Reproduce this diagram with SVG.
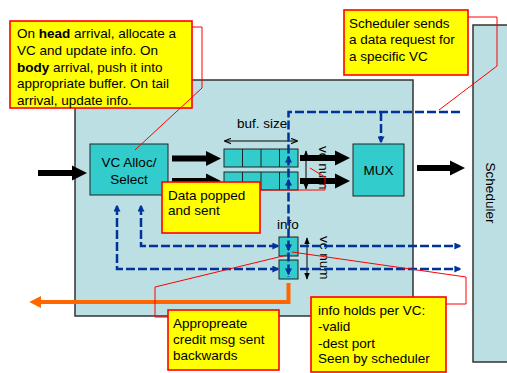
<svg xmlns="http://www.w3.org/2000/svg" width="507" height="373" viewBox="0 0 507 373">
<style>
text{font-family:"Liberation Sans",Arial,sans-serif;font-size:13.5px;fill:#000}
.bg{fill:#bcdfe3;stroke:#333;stroke-width:1.5}
.teal{fill:#33cccc;stroke:#222;stroke-width:1}
.note{fill:#ffff00;stroke:#ff0000;stroke-width:1.6}
.thick{stroke:#000;stroke-width:6;fill:none;marker-end:url(#ah)}
.blue{stroke:#003399;stroke-width:2.5;fill:none;stroke-dasharray:9 3}
.bm{marker-end:url(#bh)}
.bs{marker-start:url(#bh)}
.red{stroke:#ff0000;stroke-width:1;fill:none}
.thin{stroke:#000;stroke-width:1;fill:none;marker-start:url(#th);marker-end:url(#th)}
.orange{stroke:#ff6600;stroke-width:4;fill:none;marker-end:url(#oh)}
.mid{text-anchor:middle}
</style>
<defs>
<marker id="ah" viewBox="0 0 10 10" refX="4" refY="5" markerWidth="2.5" markerHeight="2.6" orient="auto"><path d="M0,0L10,5L0,10z" fill="#000"/></marker>
<marker id="bh" viewBox="0 0 10 10" refX="8" refY="5" markerWidth="7" markerHeight="7" markerUnits="userSpaceOnUse" orient="auto-start-reverse"><path d="M0,0L10,5L0,10z" fill="#003399"/></marker>
<marker id="th" viewBox="0 0 10 10" refX="9" refY="5" markerWidth="7" markerHeight="7" markerUnits="userSpaceOnUse" orient="auto-start-reverse"><path d="M0,1L10,5L0,9z" fill="#000"/></marker>
<marker id="tho" viewBox="0 0 10 10" refX="9" refY="5" markerWidth="7" markerHeight="7" markerUnits="userSpaceOnUse" orient="auto-start-reverse"><path d="M0,1L10,5L0,9" fill="none" stroke="#000" stroke-width="1.5"/></marker>
<marker id="oh" viewBox="0 0 10 10" refX="6" refY="5" markerWidth="12" markerHeight="12" markerUnits="userSpaceOnUse" orient="auto"><path d="M0,0L10,5L0,10z" fill="#ff6600"/></marker>
</defs>

<g id="router"><rect class="bg" x="75" y="80" width="338" height="236"/></g>
<g id="scheduler"><rect class="bg" x="473" y="25" width="40" height="337"/><text class="mid" transform="translate(486,193) rotate(90)">Scheduler</text></g>

<g id="vcalloc"><rect class="teal" x="90" y="144" width="78" height="51"/><text class="mid" x="129" y="167">VC Alloc/</text><text class="mid" x="129" y="184">Select</text></g>
<g id="buffer1"><rect class="teal" x="224" y="149" width="74" height="18"/><path d="M242.5,149V167M261,149V167M279.5,149V167" stroke="#222" stroke-width="1"/></g>
<g id="buffer2"><rect class="teal" x="224" y="172" width="74" height="18"/><path d="M242.5,172V190M261,172V190M279.5,172V190" stroke="#222" stroke-width="1"/></g>
<g id="mux"><rect class="teal" x="353" y="144" width="51" height="52"/><text class="mid" x="378.5" y="175">MUX</text></g>
<g id="info1"><rect class="teal" x="279" y="237" width="19" height="19"/></g>
<g id="info2"><rect class="teal" x="279" y="260" width="19" height="19"/></g>

<g id="labels">
<text x="237" y="128">buf. size</text>
<text x="277" y="229">info</text>
<text transform="translate(319,146) rotate(90)">vc num</text>
<text transform="translate(320,236) rotate(90)">vc num</text>
</g>

<g id="connectors">
<path class="thick" d="M38,173H78"/>
<path class="thick" d="M172,158.5H212"/>
<path class="thick" d="M172,181H212"/>
<path class="thick" d="M300,158H341"/>
<path class="thick" d="M300,181H341"/>
<path class="thick" d="M417,168H456"/>
<path d="M225,141H297" stroke="#000" stroke-width="1" fill="none" marker-start="url(#tho)" marker-end="url(#tho)"/>
<path class="thin" d="M306,151V189"/>
<path class="thin" d="M307,238V279"/>
<path class="blue" d="M460,112H288.5V277"/>
<path class="blue bm" d="M381,112V142"/>
<path class="blue bs bm" d="M141,206V246H278"/>
<path class="blue bs bm" d="M117,206V269H278"/>
<path class="blue bm" d="M300,246H460"/>
<path class="blue bm" d="M300,269H460"/>
<path class="bm" d="M288.5,163V157" stroke="#003399" stroke-width="2.5"/>
<path class="bm" d="M288.5,186V180" stroke="#003399" stroke-width="2.5"/>
<path class="bm" d="M288.5,244V250" stroke="#003399" stroke-width="2.5"/>
<path class="bm" d="M288.5,268V274" stroke="#003399" stroke-width="2.5"/>
<path class="orange" d="M288.5,283V302H34"/>
</g>

<g id="note-head"><rect class="note" x="10" y="21" width="182" height="87"/>
<text x="17" y="38">On <tspan font-weight="bold">head</tspan> arrival, allocate a</text>
<text x="17" y="55">VC and update info. On</text>
<text x="17" y="71.5"><tspan font-weight="bold">body</tspan> arrival, push it into</text>
<text x="17" y="88">appropriate buffer. On tail</text>
<text x="17" y="104.5">arrival, update info.</text></g>
<g id="note-sched"><rect class="note" x="344" y="10" width="124" height="65"/>
<text x="349" y="27.5">Scheduler sends</text>
<text x="349" y="44">a data request for</text>
<text x="349" y="60.5">a specific VC</text></g>
<g id="note-pop"><rect class="note" x="162" y="182" width="98" height="51"/>
<text x="168" y="200">Data popped</text>
<text x="168" y="215">and sent</text></g>
<g id="note-credit"><rect class="note" x="168" y="310" width="111" height="60"/>
<text x="173" y="328">Appropreate</text>
<text x="173" y="344">credit msg sent</text>
<text x="173" y="360">backwards</text></g>
<g id="note-info"><rect class="note" x="311" y="297" width="135" height="75"/>
<text x="318" y="315">info holds per VC:</text>
<text x="318" y="331">-valid</text>
<text x="318" y="347.5">-dest port</text>
<text x="318" y="363">Seen by scheduler</text></g>

<g id="callouts">
<path class="red" d="M192,27H202V88L135,150"/>
<path class="red" d="M468,17H497V66L439,110"/>
<path class="red" d="M260,190H325V177L310,168"/>
<path class="red" d="M168,317H155V287L287,255"/>
<path class="red" d="M446,304H466V277L292,252"/>
</g>
</svg>
